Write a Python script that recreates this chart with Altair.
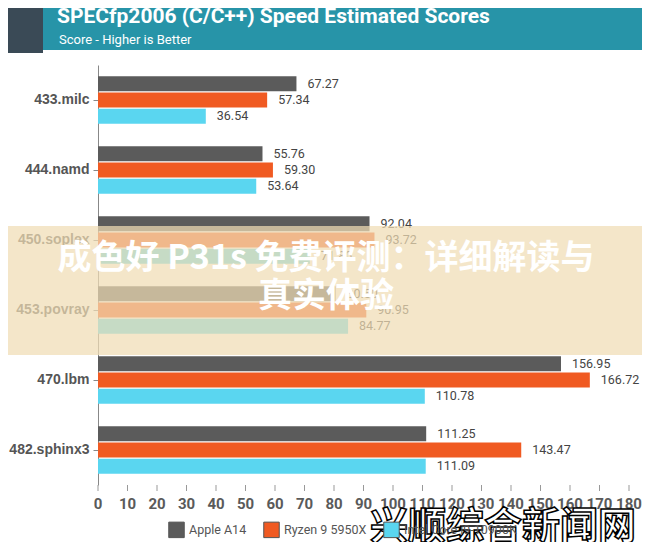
import altair as alt
import pandas as pd

benchmarks = ["433.milc", "444.namd", "450.soplex", "453.povray", "470.lbm", "482.sphinx3"]
series = ["Apple A14", "Ryzen 9 5950X", "Intel Core i9-10900K"]
apple = [67.27, 55.76, 92.04, 80.50, 156.95, 111.25]
ryzen = [57.34, 59.30, 93.72, 90.95, 166.72, 143.47]
intel = [36.54, 53.64, 71.80, 84.77, 110.78, 111.09]
colors = ["#5b5b5b", "#f05a22", "#5ad6f0"]
x_ticks = list(range(0, 181, 10))

title_text = "SPECfp2006 (C/C++) Speed Estimated Scores"
subtitle_text = "Score - Higher is Better"
banner_line1 = "成色好 P31s 免费评测：详细解读与"
banner_line2 = "真实体验"
watermark = "兴顺综合新闻网"

rows = []
for i, b in enumerate(benchmarks):
    for s, vals in zip(series, [apple, ryzen, intel]):
        rows.append({"bench": b, "series": s, "score": vals[i]})
df = pd.DataFrame(rows)
ticks_df = pd.DataFrame({"t": x_ticks})

W, H = 531, 420

x_axis = alt.Axis(grid=False, labels=False, ticks=False, domainColor="#999999")
x_scale = alt.Scale(domain=[0, 180], nice=False)

y_enc = alt.Y("bench:N", sort=benchmarks, title=None,
              scale=alt.Scale(paddingInner=0, paddingOuter=0),
              axis=alt.Axis(labelFontSize=14, labelFontWeight="bold", labelColor="#555555",
                            labelFont="Liberation Sans", tickSize=5, tickColor="#888888",
                            domainColor="#888888", labelPadding=4))
yoff = alt.YOffset("series:N", sort=series,
                   scale=alt.Scale(paddingInner=0.07, paddingOuter=0.7))

base = alt.Chart(df).encode(
    y=y_enc, yOffset=yoff,
    x=alt.X("score:Q", title=None, scale=x_scale, axis=x_axis),
)

bars = base.mark_bar(strokeWidth=0.8).encode(
    color=alt.Color("series:N", sort=series,
                    scale=alt.Scale(domain=series, range=colors),
                    legend=alt.Legend(title=None, orient="none", legendX=70, legendY=456,
                                      direction="horizontal", symbolType="square",
                                      symbolSize=240, symbolStrokeWidth=1,
                                      symbolStrokeColor="#555555",
                                      labelFontSize=12.5, labelColor="#555555",
                                      labelFont="Roboto",
                                      columnPadding=14, symbolOffset=0)),
)

labels = base.mark_text(align="left", dx=11, fontSize=12.5, color="#444444",
                        font="Roboto").encode(
    text=alt.Text("score:Q", format=".2f"),
)

tick_marks = alt.Chart(ticks_df).mark_rule(color="#999999").encode(
    x=alt.X("t:Q", scale=x_scale, axis=None),
    y=alt.value(H), y2=alt.value(H + 6))
tick_labels = alt.Chart(ticks_df).mark_text(baseline="top", fontSize=15, fontWeight="bold",
                                           font="Roboto", color="#5a5a5a").encode(
    x=alt.X("t:Q", scale=x_scale, axis=None),
    y=alt.value(H + 12), text="t:Q")

one = alt.Data(values=[{}])

header = alt.Chart(one).mark_rect(color="#2794a8").encode(
    x=alt.value(-110), x2=alt.value(W + 40), y=alt.value(-75), y2=alt.value(-15))
logo = alt.Chart(one).mark_rect(color="#3a4a56").encode(
    x=alt.value(-92), x2=alt.value(-55), y=alt.value(-62), y2=alt.value(-12))
title = alt.Chart(one).mark_text(text=title_text, align="left", baseline="middle",
                                 fontSize=21, font="Roboto", fontWeight="bold",
                                 color="white").encode(x=alt.value(-41), y=alt.value(-48))
subtitle = alt.Chart(one).mark_text(text=subtitle_text, align="left", baseline="middle",
                                    fontSize=13, font="Roboto", color="white").encode(
    x=alt.value(-39), y=alt.value(-25))

banner = alt.Chart(one).mark_rect(color="#f0dcb4", opacity=0.72).encode(
    x=alt.value(-110), x2=alt.value(W + 40), y=alt.value(161), y2=alt.value(290))
b1 = alt.Chart(one).mark_text(text=banner_line1, align="center", baseline="middle",
                              fontSize=34, font="Noto Sans CJK SC", fontWeight="bold",
                              color="white").encode(x=alt.value(228), y=alt.value(194))
b2 = alt.Chart(one).mark_text(text=banner_line2, align="center", baseline="middle",
                              fontSize=34, font="Noto Sans CJK SC", fontWeight="bold",
                              color="white").encode(x=alt.value(228), y=alt.value(232))
wm = alt.Chart(one).mark_text(text=watermark, align="right", baseline="middle",
                              fontSize=38, font="Noto Sans CJK SC", fontWeight="bold",
                              color="white", stroke="black", strokeWidth=1.5).encode(
    x=alt.value(538), y=alt.value(463))

chart = alt.layer(bars, labels, tick_marks, tick_labels, header, logo, title, subtitle,
                  banner, b1, b2, wm).properties(
    width=W, height=H,
    autosize=alt.AutoSizeParams(type="none"),
    padding={"left": 90, "top": 57, "right": 13, "bottom": 57},
    background="white",
).configure_view(stroke=None)

chart.save("out.html", embed_options={"renderer": "svg", "actions": False})
